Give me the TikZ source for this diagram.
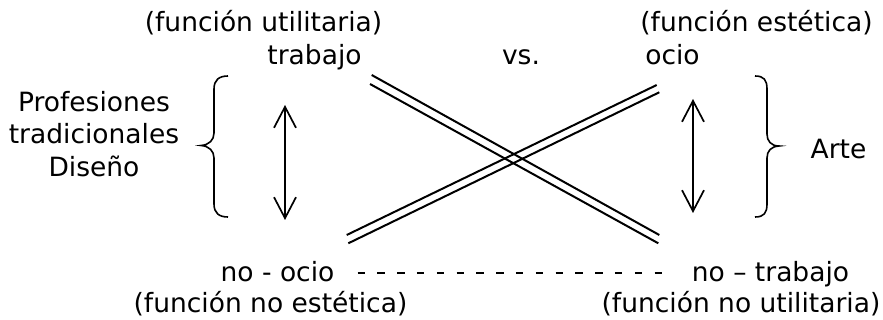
\documentclass[tikz,border=0pt]{standalone}
\usepackage{fontspec}
\setmainfont{DejaVu Sans}
\usetikzlibrary{arrows.meta}
\begin{document}
\begin{tikzpicture}[x=1pt,y=-1pt,
  lbl/.style={inner sep=0pt, anchor=base, font=\fontsize{26.5}{32.5}\selectfont},
  xline/.style={line width=2pt},
  varrow/.style={line width=1.7pt, {Straight Barb[length=21pt,width=22pt]}-{Straight Barb[length=21pt,width=22pt]}},
  bracestyle/.style={line width=1.6pt},
  dashline/.style={line width=2pt, dash pattern=on 7.5pt off 12.3pt}]
\useasboundingbox (0,0) rectangle (883,320);
% texts
\node[lbl] (futil) at (263.5,32) {(función utilitaria)};
\node[lbl] (trabajo) at (314.5,65) {trabajo};
\node[lbl] (vs) at (521,65) {vs.};
\node[lbl] (ocio) at (672.5,65) {ocio};
\node[lbl] (fest) at (756.5,32) {(función estética)};
\node[lbl, align=center, anchor=north] (prof) at (94,91) {Profesiones\\tradicionales\\Diseño};
\node[lbl] (arte) at (838.5,159) {Arte};
\node[lbl] (noocio) at (277.5,281) {no - ocio};
\node[lbl] (fnoest) at (270.5,312) {(función no estética)};
\node[lbl] (notrabajo) at (770.5,281) {no – trabajo};
\node[lbl] (fnoutil) at (741,312) {(función no utilitaria)};
% crossing double lines
\coordinate (a1) at (371.7,75);  \coordinate (a2) at (659.3,235);
\coordinate (b1) at (370,84);    \coordinate (b2) at (658.3,243.3);
\coordinate (c1) at (346.7,235); \coordinate (c2) at (656.7,85);
\coordinate (d1) at (348.3,243.3); \coordinate (d2) at (659.3,92.3);
\draw[xline] (a1) -- (a2);
\draw[xline] (b1) -- (b2);
\draw[xline] (c1) -- (c2);
\draw[xline] (d1) -- (d2);
% vertical arrows
\coordinate (la1) at (285,105); \coordinate (la2) at (285,220);
\coordinate (ra1) at (693,99);  \coordinate (ra2) at (693,213);
\draw[varrow] (la1) -- (la2);
\draw[varrow] (ra1) -- (ra2);
% braces
\draw[bracestyle] (228,76) .. controls (219,76) and (214,80) .. (214,89) -- (214,133)
  .. controls (214,140) and (209,145) .. (201,145.5)
  .. controls (209,146) and (214,151) .. (214,158) -- (214,204)
  .. controls (214,213) and (219,217) .. (228,217);
\draw[bracestyle] (755,76) .. controls (764,76) and (767,80) .. (767,89) -- (767,134)
  .. controls (767,141) and (771,146) .. (779,146)
  .. controls (771,146.5) and (767,151) .. (767,158) -- (767,204)
  .. controls (767,213) and (764,217) .. (755,217);
% dashed connector
\draw[dashline] ([shift={(23,-8)}]noocio.base east) -- ([shift={(-23,-8)}]notrabajo.base west);
\end{tikzpicture}
\end{document}
